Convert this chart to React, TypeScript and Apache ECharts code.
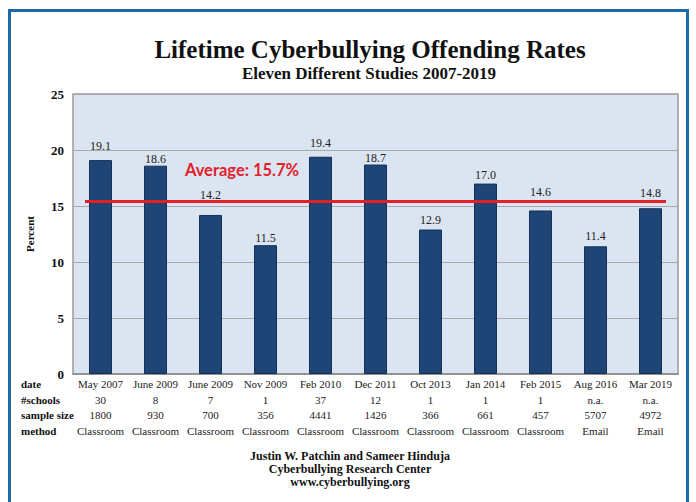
import React, { useEffect, useRef } from "react";
import * as echarts from "echarts";

const dates = ["May 2007", "June 2009", "June 2009", "Nov 2009", "Feb 2010", "Dec 2011", "Oct 2013", "Jan 2014", "Feb 2015", "Aug 2016", "Mar 2019"];
const schools = ["30", "8", "7", "1", "37", "12", "1", "1", "1", "n.a.", "n.a."];
const sampleSizes = ["1800", "930", "700", "356", "4441", "1426", "366", "661", "457", "5707", "4972"];
const methods = ["Classroom", "Classroom", "Classroom", "Classroom", "Classroom", "Classroom", "Classroom", "Classroom", "Classroom", "Email", "Email"];
const rates = [19.1, 18.6, 14.2, 11.5, 19.4, 18.7, 12.9, 17.0, 14.6, 11.4, 14.8];
const averageLineValue = 15.45;
const averageLabel = "Average: 15.7%";
const rowLabels = ["date", "#schools", "sample size", "method"];
const yTicks = [0, 5, 10, 15, 20, 25];
const footerLines = ["Justin W. Patchin and Sameer Hinduja", "Cyberbullying Research Center", "www.cyberbullying.org"];

// label placement (styling only): pixel gap between bar top and label, per bar
const labelGap = [8, 1, 14, 1, 8, 1, 4, 3, 12, 4, 9];

const SERIF = '"Liberation Serif", "DejaVu Serif", serif';

export default function App() {
  const ref = useRef<HTMLDivElement>(null);
  useEffect(() => {
    if (!ref.current) return;
    const chart = echarts.init(ref.current, undefined, { renderer: "svg" });
    const categories = dates.map((d, i) => `${d}\n${schools[i]}\n${sampleSizes[i]}\n${methods[i]}`);
    const lineH = 15.7;
    chart.setOption({
      animation: false,
      backgroundColor: "#ffffff",
      title: [
        {
          text: "Lifetime Cyberbullying Offending Rates",
          left: 365,
          top: 32,
          textAlign: "center",
          textStyle: { fontFamily: SERIF, fontWeight: "bold", fontSize: 25, color: "#111" },
        },
        {
          text: "Eleven Different Studies 2007-2019",
          left: 364,
          top: 60,
          textAlign: "center",
          textStyle: { fontFamily: SERIF, fontWeight: "bold", fontSize: 17, color: "#111" },
        },
      ],
      grid: {
        left: 73,
        right: 696 - 678,
        top: 94,
        bottom: 502 - 374,
        show: true,
        backgroundColor: "#dbe5f1",
        borderColor: "#9a9a9a",
        borderWidth: 1.5,
      },
      xAxis: {
        type: "category",
        data: categories,
        axisTick: { show: false },
        axisLine: { lineStyle: { color: "#8a8a8a", width: 1.5 } },
        axisLabel: {
          interval: 0,
          margin: 2,
          fontFamily: SERIF,
          fontSize: 11,
          lineHeight: lineH,
          color: "#222",
        },
      },
      yAxis: {
        type: "value",
        min: yTicks[0],
        max: yTicks[yTicks.length - 1],
        interval: 5,
        name: "Percent",
        nameLocation: "middle",
        nameRotate: 90,
        nameGap: 38,
        nameTextStyle: { fontFamily: SERIF, fontWeight: "bold", fontSize: 11, color: "#111" },
        axisLine: { show: false },
        axisTick: { show: false },
        axisLabel: { fontFamily: SERIF, fontWeight: "bold", fontSize: 13, color: "#111", margin: 9 },
        splitLine: { lineStyle: { color: "#a8a8a8", width: 1.2 } },
      },
      series: [
        {
          type: "bar",
          data: rates.map((v, i) => ({ value: v, label: { distance: labelGap[i] } })),
          barWidth: 23,
          itemStyle: { color: "#1f4576", borderColor: "#13305a", borderWidth: 1 },
          label: {
            show: true,
            position: "top",
            formatter: (p: any) => Number(p.value).toFixed(1),
            fontFamily: SERIF,
            fontSize: 12,
            color: "#222",
          },
          markLine: {
            silent: true,
            symbol: "none",
            label: { show: false },
            lineStyle: { color: "#e3202a", width: 3, type: "solid" },
            data: [
              [
                { coord: [0, averageLineValue], x: 85 },
                { coord: [10, averageLineValue], x: 666 },
              ],
            ],
          },
        },
      ],
      graphic: [
        {
          type: "rect",
          shape: { x: 9.5, y: 10.5, width: 678, height: 520 },
          style: { fill: "none", stroke: "#1b6aa9", lineWidth: 3 },
          silent: true,
        },
        {
          type: "text",
          x: 242,
          y: 170,
          style: {
            text: averageLabel,
            fill: "#e3202a",
            font: 'bold 16.5px Lato, "Liberation Sans", sans-serif',
            textAlign: "center",
            textVerticalAlign: "middle",
          },
        },
        ...rowLabels.map((t, i) => ({
          type: "text",
          x: 21,
          y: 384 + i * lineH,
          style: {
            text: t,
            fill: "#111",
            font: `bold 11px ${SERIF}`,
            textAlign: "left",
            textVerticalAlign: "middle",
          },
        })),
        ...footerLines.map((t, i) => ({
          type: "text",
          x: 350,
          y: 456 + i * 13.2,
          style: {
            text: t,
            fill: "#111",
            font: `bold 12px ${SERIF}`,
            textAlign: "center",
            textVerticalAlign: "middle",
          },
        })),
      ],
    });
    return () => chart.dispose();
  }, []);
  return <div ref={ref} style={{ position: "fixed", left: 0, top: 0, width: 696, height: 502 }} />;
}
